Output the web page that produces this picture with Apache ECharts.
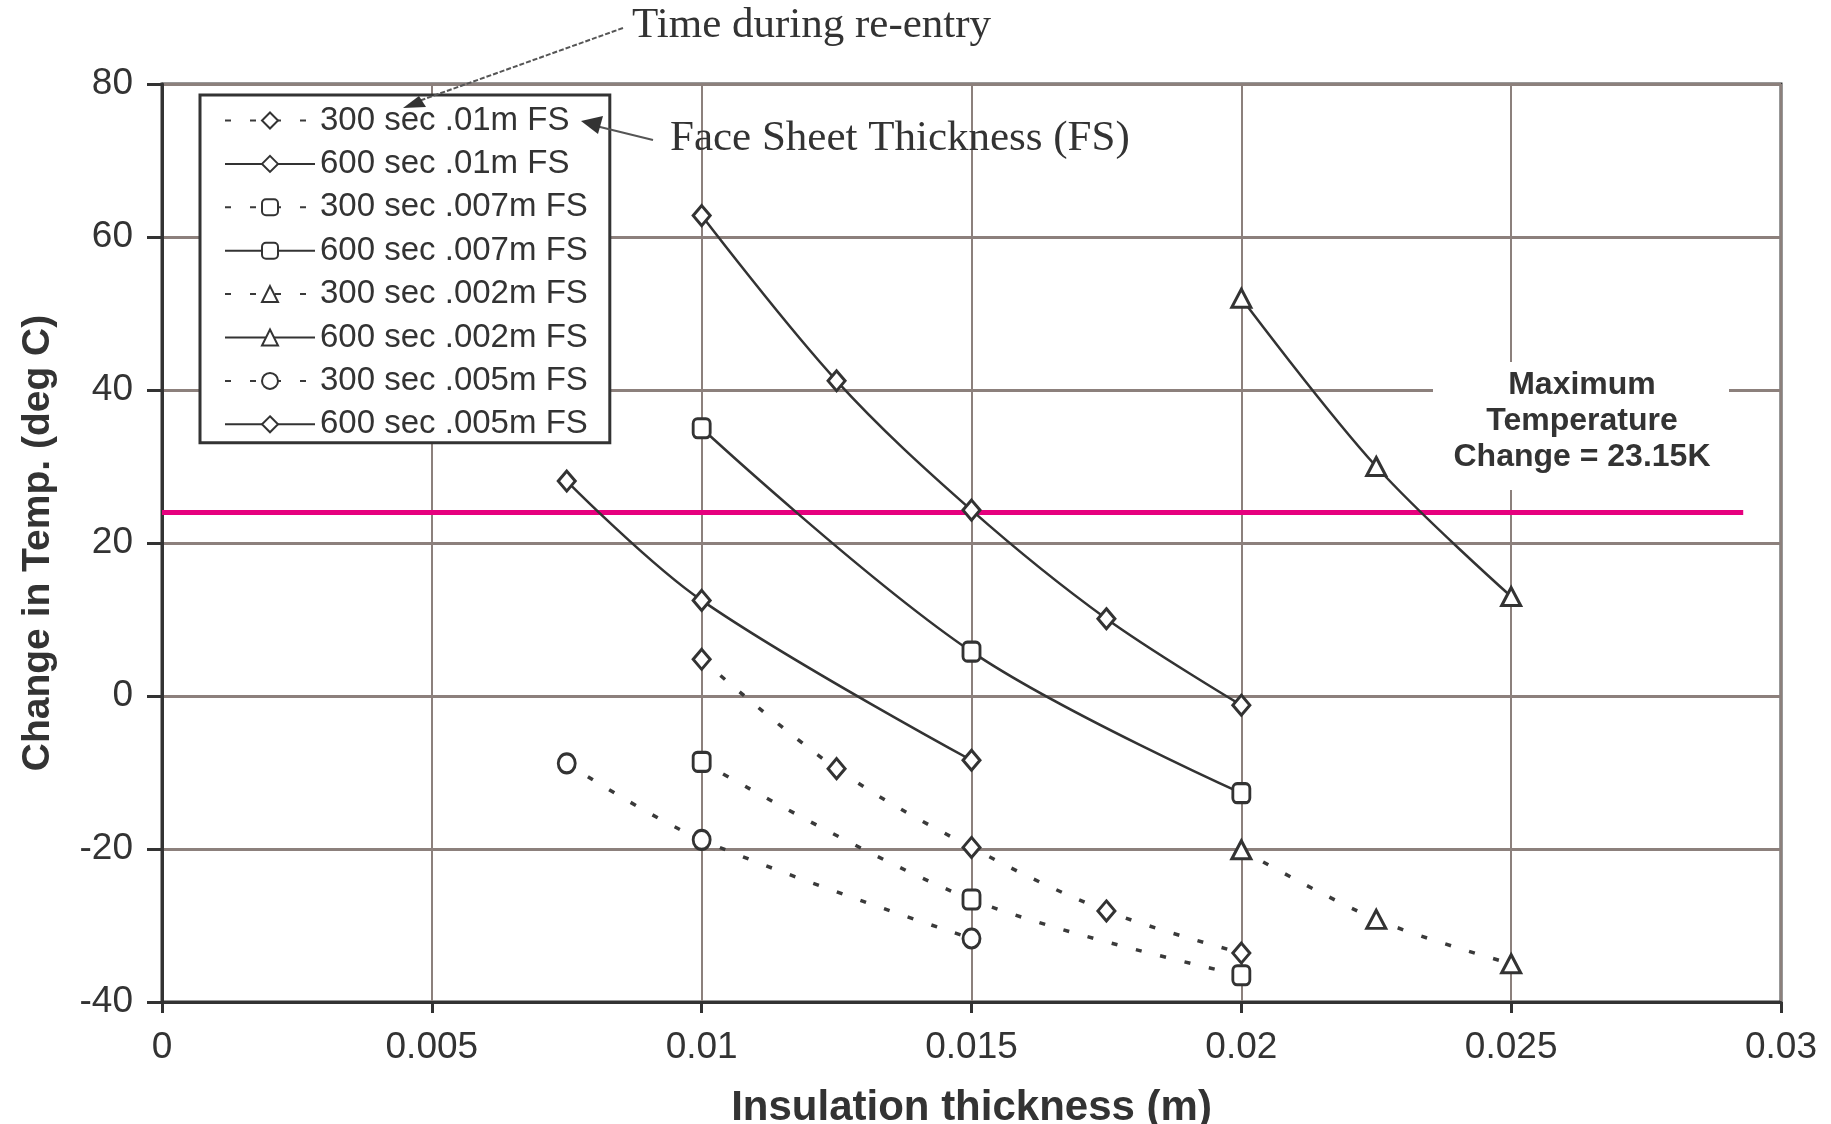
<!DOCTYPE html>
<html>
<head>
<meta charset="utf-8">
<script src="https://cdn.jsdelivr.net/npm/echarts@6/dist/echarts.min.js"></script>
<style>
html,body{margin:0;padding:0;background:#fff;}
#c{width:1831px;height:1124px;}
</style>
</head>
<body>
<div id="c"></div>
<script>
// ---- data ----
var xTicks = [0, 0.005, 0.01, 0.015, 0.02, 0.025, 0.03];
var yTicks = [-40, -20, 0, 20, 40, 60, 80];

var seriesNames = [
  '300 sec .01m FS', '600 sec .01m FS',
  '300 sec .007m FS', '600 sec .007m FS',
  '300 sec .002m FS', '600 sec .002m FS',
  '300 sec .005m FS', '600 sec .005m FS'
];

var s300_01  = [[0.01, 4.8], [0.0125, -9.5], [0.015, -19.8], [0.0175, -28.1], [0.02, -33.6]];
var s600_01  = [[0.01, 62.8], [0.0125, 41.2], [0.015, 24.3], [0.0175, 10.1], [0.02, -1.2]];
var s300_007 = [[0.01, -8.6], [0.015, -26.6], [0.02, -36.5]];
var s600_007 = [[0.01, 35.0], [0.015, 5.8], [0.02, -12.7]];
var s300_002 = [[0.02, -20.1], [0.0225, -29.2], [0.025, -35.0]];
var s600_002 = [[0.02, 52.0], [0.0225, 30.0], [0.025, 13.0]];
var s300_005 = [[0.0075, -8.8], [0.01, -18.8], [0.015, -31.7]];
var s600_005 = [[0.0075, 28.1], [0.01, 12.5], [0.015, -8.4]];

var maxTempLineY = 24;
var maxTempLineXEnd = 0.0293;
var maxTempText = 'Maximum\nTemperature\nChange = 23.15K';

// ---- styling ----
var DARK = '#333333';
var GRIDC = '#8c807c';
var SANS = 'Liberation Sans';
var SERIF = 'Liberation Serif';

function mkSeries(name, data, dashed, symbol, size) {
  return {
    name: name,
    type: 'line',
    data: data,
    smooth: 0.35,
    symbol: symbol,
    symbolSize: size,
    showSymbol: true,
    itemStyle: { color: '#ffffff', borderColor: DARK, borderWidth: 3 },
    lineStyle: dashed ? { color: '#3a3a3a', width: 3.5, type: [6, 19] }
                      : { color: DARK, width: 2.5, type: 'solid' },
    emphasis: { disabled: true },
    z: 5
  };
}

var series = [
  mkSeries(seriesNames[0], s300_01, true, 'diamond', [17, 20]),
  mkSeries(seriesNames[1], s600_01, false, 'diamond', [17, 20]),
  mkSeries(seriesNames[2], s300_007, true, 'roundRect', [17, 19]),
  mkSeries(seriesNames[3], s600_007, false, 'roundRect', [17, 19]),
  mkSeries(seriesNames[4], s300_002, true, 'triangle', [19, 18]),
  mkSeries(seriesNames[5], s600_002, false, 'triangle', [19, 18]),
  mkSeries(seriesNames[6], s300_005, true, 'circle', [17, 19]),
  mkSeries(seriesNames[7], s600_005, false, 'diamond', [17, 20])
];

series.push({
  name: 'maxline',
  type: 'line',
  data: [],
  markLine: {
    silent: true,
    symbol: 'none',
    label: { show: false },
    lineStyle: { color: '#E6007E', width: 5, type: 'solid' },
    data: [[{ coord: [0, maxTempLineY] }, { coord: [maxTempLineXEnd, maxTempLineY] }]]
  },
  z: 4
});

var chart = echarts.init(document.getElementById('c'), null, { renderer: 'canvas' });

chart.setOption({
  animation: false,
  backgroundColor: '#ffffff',
  grid: {
    left: 162, right: 50, top: 84, bottom: 122,
    outerBoundsMode: 'none',
    containLabel: false,
    show: true, borderColor: DARK, borderWidth: 3, backgroundColor: 'transparent'
  },
  xAxis: {
    type: 'value',
    min: xTicks[0], max: xTicks[xTicks.length - 1], interval: xTicks[1] - xTicks[0],
    name: 'Insulation thickness (m)',
    nameLocation: 'middle',
    nameGap: 85,
    nameTextStyle: { fontFamily: SANS, fontSize: 42, fontWeight: 'bold', color: DARK },
    axisLine: { show: true, onZero: false, lineStyle: { color: DARK, width: 3 } },
    axisTick: { show: true, inside: false, length: 11, lineStyle: { color: DARK, width: 3 } },
    axisLabel: {
      fontFamily: SANS, fontSize: 37, color: DARK, margin: 27,
      formatter: function (v) { return String(parseFloat(v.toFixed(4))); }
    },
    splitLine: { show: true, lineStyle: { color: GRIDC, width: 2 } }
  },
  yAxis: {
    type: 'value',
    min: yTicks[0], max: yTicks[yTicks.length - 1], interval: yTicks[1] - yTicks[0],
    name: 'Change in Temp. (deg C)',
    nameLocation: 'middle',
    nameGap: 104,
    nameTextStyle: { fontFamily: SANS, fontSize: 39, fontWeight: 'bold', color: DARK },
    axisLine: { show: true, onZero: false, lineStyle: { color: DARK, width: 3 } },
    axisTick: { show: true, inside: false, length: 15, lineStyle: { color: DARK, width: 3 } },
    axisLabel: { fontFamily: SANS, fontSize: 37, color: DARK, margin: 29 },
    splitLine: { show: true, lineStyle: { color: GRIDC, width: 3 } }
  },
  legend: {
    data: seriesNames,
    orient: 'vertical',
    left: 200, top: 95,
    itemWidth: 90, itemHeight: 20, itemGap: 10.4,
    backgroundColor: '#ffffff',
    borderColor: DARK, borderWidth: 3, borderRadius: 0,
    padding: [9, 22, 2, 24],
    selectedMode: false,
    textStyle: { fontFamily: SANS, fontSize: 33, color: DARK, lineHeight: 32 }
  },
  graphic: [
    { type: 'rect', z: 50, shape: { x: 1433, y: 362, width: 296, height: 128 }, style: { fill: '#ffffff' } },
    { type: 'text', z: 51, style: {
        text: maxTempText, x: 1582, y: 421, align: 'center', verticalAlign: 'middle',
        fontFamily: SANS, fontSize: 32, fontWeight: 'bold', lineHeight: 36, fill: DARK } },
    { type: 'text', z: 51, style: {
        text: 'Time during re-entry', x: 632, y: 26, align: 'left', verticalAlign: 'middle',
        fontFamily: SERIF, fontSize: 43, fill: DARK } },
    { type: 'text', z: 51, style: {
        text: 'Face Sheet Thickness (FS)', x: 670, y: 139, align: 'left', verticalAlign: 'middle',
        fontFamily: SERIF, fontSize: 43, fill: DARK } },
    { type: 'line', z: 60, shape: { x1: 623, y1: 28, x2: 416, y2: 102 },
      style: { stroke: '#555555', lineWidth: 2, lineDash: [5, 2] } },
    { type: 'polygon', z: 60, shape: { points: [[403, 108], [426, 107], [419, 96]] },
      style: { fill: DARK } },
    { type: 'line', z: 60, shape: { x1: 596, y1: 126, x2: 653, y2: 140 },
      style: { stroke: '#555555', lineWidth: 2 } },
    { type: 'polygon', z: 60, shape: { points: [[581, 121], [603, 116], [598, 134]] },
      style: { fill: DARK } }
  ],
  series: series
});
</script>
</body>
</html>
